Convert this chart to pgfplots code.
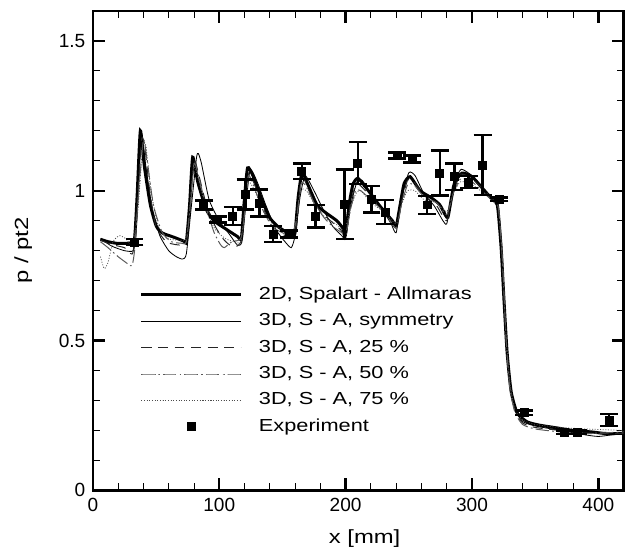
\documentclass[border=0pt]{standalone}
\usepackage{fontspec}
\setmainfont{Liberation Sans}
\newfontfamily\wide[FakeStretch=1.25]{Liberation Sans}
\usepackage{pgfplots}
\pgfplotsset{compat=1.18}
\begin{document}
\begin{tikzpicture}
\begin{axis}[
  scale only axis, width=320.2pt, height=289.2pt,
  xmin=0, xmax=420, ymin=0, ymax=1.6,
  xtick={0,100,...,400}, ytick={0,0.5,1,1.5},
  minor x tick num=4, minor y tick num=4,
  tick align=inside, major tick length=7.2pt, minor tick length=4.2pt,
  every major tick/.append style={line width=1.4pt, black},
  every minor tick/.append style={line width=0.5pt, black},
  axis line style={line width=1.6pt},
  /pgf/number format/assume math mode=true,
  ticklabel style={font=\fontsize{11.5}{13}\selectfont},
  xticklabel style={yshift=-1pt},
  yticklabel style={xshift=-1pt},
  xlabel={x [mm]}, ylabel={p / pt2},
  label style={font=\wide\fontsize{11.5}{13}\selectfont},
  xlabel style={at={(axis description cs:0.512,-0.1)}, anchor=center},
  ylabel style={at={(axis description cs:-0.131,0.5)}, anchor=center},
  legend image code/.code={\draw[mark repeat=2,mark phase=2,#1] plot coordinates {(0pt,0pt) (30pt,0pt) (60pt,0pt)};},
  legend cell align=left,
  legend style={draw=none, fill=none, at={(0.088,0.43)}, anchor=north west, inner sep=0pt,
    row sep=3.4pt, font=\wide\fontsize{10.5}{12}\selectfont,
    nodes={text height=8pt, text depth=2.5pt, inner sep=1pt},
    /tikz/every odd column/.append style={column sep=9pt}},
]
% 2D, Spalart - Allmaras
\addplot[black, line width=1.8pt, smooth, tension=0.35] coordinates {
(6,0.838) (12,0.830) (20,0.824) (30,0.826) (33,0.84) (35,0.98) (37.6,1.2) (40.8,1.08)
(45.5,0.953) (50.2,0.882) (55,0.859) (64,0.845) (72,0.832) (74,0.83) (76.5,0.95) (79,1.112)
(83,1.03) (89.4,0.941) (95.7,0.9) (105,0.873) (114.5,0.847) (117.5,0.84) (119.5,0.95)
(122.4,1.076) (127,1.047) (133.3,0.976) (139.6,0.912) (146,0.882) (152,0.865) (158,0.853)
(160,0.86) (162.5,0.98) (165.6,1.059) (171,1.012) (177.3,0.953) (183.5,0.929) (193,0.9)
(197.6,0.876) (199.8,0.853) (203,0.96) (206,1.024) (210,1.041) (218,1.0) (227.5,0.947)
(237,0.9) (240,0.882) (243,0.95) (246.3,1.024) (251,1.047) (259,1.0) (268,0.976)
(274.5,0.953) (279,0.918) (281,0.912) (283.5,0.97) (286,1.024) (292,1.059) (300,1.047)
(307.5,1.012) (315,0.976) (320,0.953) (323,0.812) (325.3,0.635) (327.8,0.459) (331,0.329)
(335.7,0.259) (343.5,0.229) (353,0.218) (365,0.21) (380,0.2) (395,0.195) (405,0.19) (420,0.19)};
\addlegendentry{2D, Spalart - Allmaras}
% 3D, S - A, symmetry
\addplot[black, line width=0.5pt, smooth, tension=0.35] coordinates {
(6,0.84) (15,0.815) (25,0.80) (32,0.80) (34,0.85) (36,1.0) (38.5,1.19) (42,1.08) (47,0.94)
(53,0.85) (60,0.80) (66,0.78) (71,0.772) (74,0.79) (78,0.95) (82,1.11) (83.5,1.124)
(86,1.09) (92,0.97) (100,0.9) (108,0.855) (114.5,0.818) (118,0.83) (121,0.95) (124.5,1.07)
(130,1.03) (137,0.95) (145,0.87) (152,0.83) (157,0.81) (160,0.85) (164,0.98) (168,1.05)
(175,1.0) (182,0.94) (190,0.88) (197,0.85) (200,0.84) (204,0.95) (209,1.03) (213,1.035)
(220,0.99) (230,0.93) (236,0.89) (240,0.86) (244,0.97) (250,1.06) (255,1.05) (262,0.99)
(270,0.95) (277,0.90) (280,0.89) (284,0.97) (290,1.065) (293,1.07) (300,1.05) (310,1.0)
(318,0.96) (321,0.93) (324,0.75) (327,0.5) (330,0.35) (334,0.27) (340,0.23) (350,0.215)
(370,0.2) (390,0.185) (400,0.18) (410,0.185) (420,0.19)};
\addlegendentry{3D, S - A, symmetry}
% 3D, S - A, 25 %
\addplot[black!85, line width=0.6pt, dash pattern=on 6pt off 4pt, smooth, tension=0.35] coordinates {
(6,0.835) (15,0.82) (25,0.81) (30,0.79) (32,0.80) (35,0.95) (38.5,1.17) (41,1.15) (45,1.0)
(50,0.88) (58,0.83) (66,0.82) (72,0.82) (75,0.85) (78,1.0) (80.5,1.10) (84,1.05) (90,0.95)
(97,0.88) (103,0.84) (108,0.82) (114,0.815) (118,0.84) (121,0.97) (123.5,1.06) (128,1.02)
(135,0.94) (142,0.88) (150,0.855) (157,0.845) (161,0.88) (164.5,1.03) (167,1.04) (173,0.98)
(180,0.93) (188,0.90) (196,0.87) (200,0.85) (204,0.96) (208,1.02) (211,1.02) (220,0.98)
(230,0.93) (240,0.875) (244,0.96) (249,1.035) (253,1.035) (262,0.985) (272,0.95) (280,0.90)
(285,0.99) (291,1.055) (300,1.04) (310,1.0) (318,0.965) (321,0.94) (324,0.78) (327,0.5)
(330,0.35) (334,0.265) (340,0.225) (350,0.21) (370,0.2) (390,0.19) (420,0.19)};
\addlegendentry{3D, S - A, 25 \%}
% 3D, S - A, 50 %
\addplot[black!65, line width=0.6pt, dash pattern=on 8pt off 2pt on 1pt off 2pt, smooth, tension=0.35] coordinates {
(6,0.83) (12,0.81) (20,0.78) (28,0.755) (31,0.75) (33,0.80) (36,0.98) (40,1.17) (43,1.10)
(48,0.95) (55,0.86) (62,0.83) (70,0.825) (74,0.83) (77,0.95) (80,1.09) (83,1.06) (90,0.94)
(96,0.86) (101,0.82) (104,0.81) (110,0.83) (117,0.84) (120,0.92) (123,1.05) (127,1.02)
(134,0.94) (142,0.88) (150,0.86) (157,0.85) (161,0.9) (164.5,1.02) (168,1.02) (175,0.96)
(183,0.91) (190,0.88) (197,0.86) (200,0.85) (204,0.94) (208,1.0) (212,1.0) (220,0.97)
(230,0.93) (240,0.875) (244,0.95) (249,1.02) (254,1.02) (262,0.98) (272,0.96) (280,0.92)
(285,0.99) (291,1.04) (300,1.03) (310,0.99) (318,0.96) (321,0.94) (324,0.77) (327,0.5)
(330,0.34) (334,0.26) (340,0.22) (350,0.205) (370,0.195) (390,0.19) (420,0.195)};
\addlegendentry{3D, S - A, 50 \%}
% 3D, S - A, 75 %
\addplot[black!70, line width=0.45pt, dash pattern=on 0.6pt off 1pt, smooth, tension=0.35] coordinates {
(6,0.78) (9,0.74) (12,0.76) (16,0.83) (21,0.85) (26,0.84) (30,0.82) (33,0.85) (36,0.95)
(39.5,1.15) (42,1.15) (46,1.0) (52,0.88) (60,0.84) (68,0.835) (74,0.84) (77,0.96) (80,1.08)
(84,1.03) (90,0.93) (97,0.87) (105,0.84) (112,0.83) (117,0.83) (120,0.93) (123,1.03)
(128,1.0) (135,0.93) (142,0.89) (150,0.87) (157,0.86) (161,0.9) (164.5,1.0) (169,1.0)
(176,0.95) (184,0.91) (192,0.89) (199,0.87) (203,0.93) (208,0.99) (212,1.0) (220,0.96)
(230,0.93) (240,0.89) (244,0.95) (249,1.0) (255,1.0) (262,0.97) (272,0.96) (280,0.93)
(285,0.99) (291,1.03) (300,1.02) (310,0.99) (318,0.96) (321,0.94) (324,0.78) (327,0.52)
(330,0.36) (334,0.27) (340,0.235) (350,0.22) (370,0.21) (390,0.205) (420,0.2)};
\addlegendentry{3D, S - A, 75 \%}
% Experiment
\addplot[only marks, mark=square*, mark size=2.4pt, black,
  error bars/.cd, y dir=both, y explicit,
  error bar style={line width=1.5pt},
  error mark options={rotate=90, mark size=5.4pt, line width=1.5pt}]
  table[x=x, y=y, y error=e] {
x y e
33.0 0.829 0.010
87.8 0.953 0.015
98.8 0.904 0.010
110.7 0.915 0.030
120.8 0.988 0.050
131.8 0.959 0.045
142.7 0.856 0.027
155.3 0.856 0.012
165.3 1.065 0.026
176.3 0.915 0.037
199.2 0.955 0.116
209.6 1.092 0.070
220.5 0.971 0.044
231.2 0.929 0.040
240.9 1.118 0.010
252.5 1.106 0.012
264.5 0.953 0.030
274.5 1.059 0.075
286.1 1.047 0.044
297.4 1.029 0.020
308.4 1.086 0.100
321.6 0.971 0.006
341.3 0.259 0.008
373.3 0.194 0.006
383.7 0.194 0.006
408.5 0.235 0.020
};
\addlegendentry{Experiment}
\end{axis}
\path ([yshift=6.6pt]current axis.north east);
\path ([xshift=-56pt]current axis.south west);
\end{tikzpicture}
\end{document}
